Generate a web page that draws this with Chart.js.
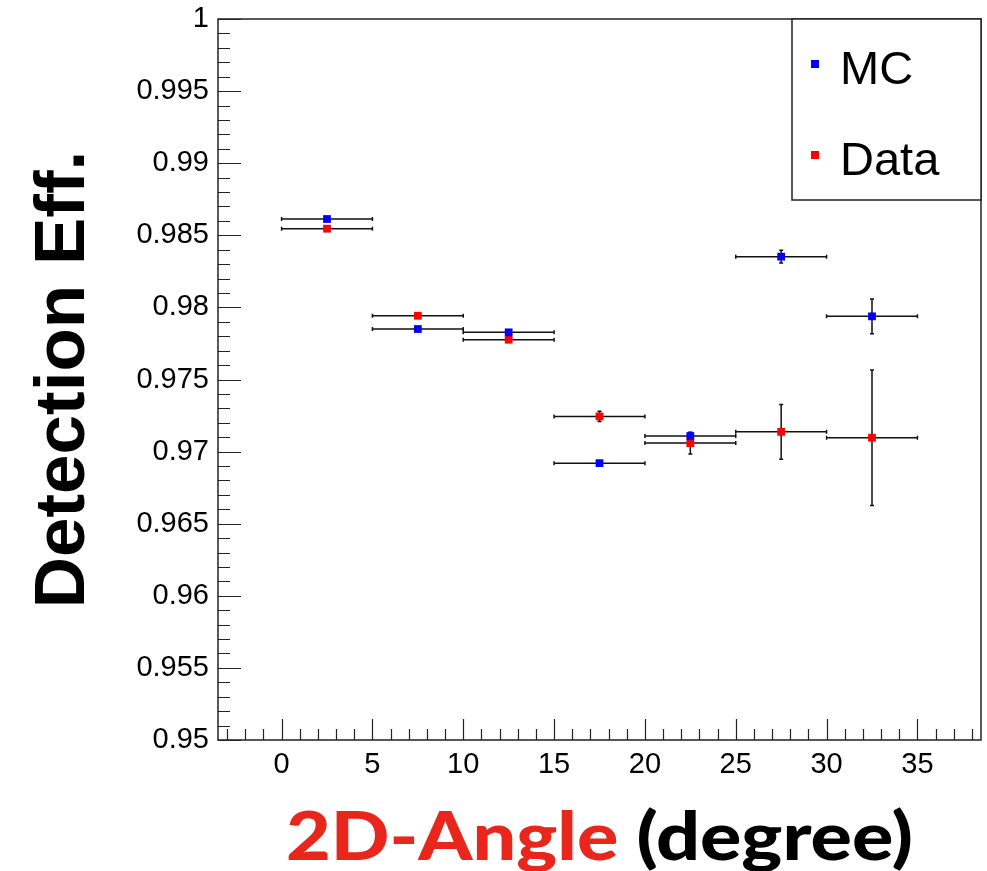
<!DOCTYPE html>
<html>
<head>
<meta charset="utf-8">
<script src="https://cdn.jsdelivr.net/npm/chart.js@4.4.1/dist/chart.umd.min.js"></script>
<style>
  html, body { margin: 0; padding: 0; background: #fff; }
</style>
</head>
<body>
<canvas id="effchart" width="987" height="871"></canvas>
<script>
// bin centres and half widths (degrees)
const binCenters = [2.5, 7.5, 12.5, 17.5, 22.5, 27.5, 32.5];
const binHalfWidths = [2.5, 2.5, 2.5, 2.5, 2.5, 2.5, 2.5];

// efficiencies
const mcEff = [0.98613, 0.97850, 0.97827, 0.96920, 0.97108, 0.98352, 0.97938];
const mcErr = [0.0001, 0.0001, 0.0001, 0.0001, 0.00025, 0.00044, 0.0012];
const dataEff = [0.98546, 0.97942, 0.97776, 0.97244, 0.97059, 0.97137, 0.97096];
const dataErr = [0.0001, 0.0001, 0.0001, 0.00035, 0.00075, 0.0019, 0.0047];

// axis ticks
const xTickValues = [0, 5, 10, 15, 20, 25, 30, 35];
const xTickLabels = ['0', '5', '10', '15', '20', '25', '30', '35'];
const yTickValues = [0.95, 0.955, 0.96, 0.965, 0.97, 0.975, 0.98, 0.985, 0.99, 0.995, 1];
const yTickLabels = ['0.95', '0.955', '0.96', '0.965', '0.97', '0.975', '0.98', '0.985', '0.99', '0.995', '1'];

const seriesNames = ['MC', 'Data'];
const seriesColors = ['#0000ff', '#ff0000'];

function toPoints(vals, errs) {
    return binCenters.map((x, i) => ({ x: x, y: vals[i], ex: binHalfWidths[i], ey: errs[i] }));
}

// error bars drawn behind the markers
const errorBars = {
    id: 'errorBars',
    beforeDatasetsDraw(chart) {
        const ctx = chart.ctx;
        const xs = chart.scales.x, ys = chart.scales.y;
        ctx.save();
        ctx.strokeStyle = '#111';
        ctx.lineWidth = 1.5;
        chart.data.datasets.forEach(ds => {
            ds.data.forEach(p => {
                const x0 = xs.getPixelForValue(p.x - p.ex);
                const x1 = xs.getPixelForValue(p.x + p.ex);
                const xc = xs.getPixelForValue(p.x);
                const yc = ys.getPixelForValue(p.y);
                const y0 = ys.getPixelForValue(p.y - p.ey);
                const y1 = ys.getPixelForValue(p.y + p.ey);
                ctx.beginPath();
                ctx.moveTo(x0, yc); ctx.lineTo(x1, yc);
                ctx.moveTo(x0, yc - 2); ctx.lineTo(x0, yc + 2);
                ctx.moveTo(x1, yc - 2); ctx.lineTo(x1, yc + 2);
                if (Math.abs(y0 - y1) > 6) {
                    ctx.moveTo(xc, y0); ctx.lineTo(xc, y1);
                    ctx.moveTo(xc - 2, y0); ctx.lineTo(xc + 2, y0);
                    ctx.moveTo(xc - 2, y1); ctx.lineTo(xc + 2, y1);
                }
                ctx.stroke();
            });
        });
        ctx.restore();
    }
};

// ROOT style frame with inner ticks, titles and legend box
const rootFrame = {
    id: 'rootFrame',
    afterDraw(chart) {
        const ctx = chart.ctx;
        const a = chart.chartArea;
        const xs = chart.scales.x, ys = chart.scales.y;
        ctx.save();
        ctx.strokeStyle = '#222';
        ctx.lineWidth = 1.5;
        ctx.strokeRect(a.left, a.top, a.right - a.left, a.bottom - a.top);

        ctx.beginPath();
        for (let v = -3; v <= 38; v++) {
            const px = Math.round(xs.getPixelForValue(v)) + 0.5;
            const len = (v % 5 === 0) ? 21 : 11;
            ctx.moveTo(px, a.bottom); ctx.lineTo(px, a.bottom - len);
        }
        for (let k = 0; k <= 50; k++) {
            const py = Math.round(ys.getPixelForValue(0.95 + k * 0.001)) + 0.5;
            const len = (k % 5 === 0) ? 23 : 12;
            ctx.moveTo(a.left, py); ctx.lineTo(a.left + len, py);
        }
        ctx.lineWidth = 1.2;
        ctx.stroke();

        // y title
        ctx.fillStyle = '#000';
        ctx.save();
        ctx.translate(84, (a.top + a.bottom) / 2);
        ctx.rotate(-Math.PI / 2);
        ctx.font = 'bold 71px "Liberation Sans", Arial, sans-serif';
        ctx.textAlign = 'center';
        ctx.textBaseline = 'alphabetic';
        ctx.fillText('Detection Eff.', 0, 0);
        ctx.restore();

        // x title, two colours
        ctx.save();
        ctx.font = '900 66px Lato, "DejaVu Sans", sans-serif';
        ctx.textBaseline = 'alphabetic';
        ctx.textAlign = 'left';
        const partA = '2D-Angle ';
        const partB = '(degree)';
        const wA = ctx.measureText(partA).width;
        const wB = ctx.measureText(partB).width;
        const sx = 627 / (wA + wB);
        ctx.translate(286, 860);
        ctx.scale(sx, 1);
        ctx.fillStyle = '#e8261c';
        ctx.fillText(partA, 0, 0);
        ctx.fillStyle = '#000';
        ctx.fillText(partB, wA, 0);
        ctx.restore();

        // legend
        const lx = 792, ly = a.top, lw = a.right - 792, lh = 181;
        ctx.fillStyle = '#fff';
        ctx.fillRect(lx, ly, lw, lh);
        ctx.strokeStyle = '#222';
        ctx.lineWidth = 1.5;
        ctx.strokeRect(lx, ly, lw, lh);
        ctx.font = '47px "Liberation Sans", Arial, sans-serif';
        ctx.textBaseline = 'alphabetic';
        ctx.textAlign = 'left';
        const rows = [84, 175];
        seriesNames.forEach((name, i) => {
            ctx.fillStyle = seriesColors[i];
            ctx.fillRect(811, rows[i] - 24, 8, 8);
            ctx.fillStyle = '#000';
            ctx.fillText(name, 840, rows[i]);
        });
        ctx.restore();
    }
};

const ctx = document.getElementById('effchart').getContext('2d');
const effChart = new Chart(ctx, {
    type: 'scatter',
    data: {
        datasets: [
            {
                label: seriesNames[0],
                data: toPoints(mcEff, mcErr),
                backgroundColor: seriesColors[0],
                borderColor: seriesColors[0],
                borderWidth: 0,
                pointStyle: 'rect',
                pointRadius: 5.5
            },
            {
                label: seriesNames[1],
                data: toPoints(dataEff, dataErr),
                backgroundColor: seriesColors[1],
                borderColor: seriesColors[1],
                borderWidth: 0,
                pointStyle: 'rect',
                pointRadius: 5.5
            }
        ]
    },
    options: {
        responsive: false,
        animation: false,
        devicePixelRatio: 1,
        layout: { padding: { top: 19, right: 6, left: 0, bottom: 0 } },
        plugins: {
            legend: { display: false },
            tooltip: { enabled: false }
        },
        scales: {
            x: {
                type: 'linear',
                min: -3.5,
                max: 38.5,
                grid: { display: false },
                border: { display: false },
                afterBuildTicks: s => { s.ticks = xTickValues.map(v => ({ value: v })); },
                afterFit: s => { s.height = 131; s.paddingLeft = 0; s.paddingRight = 0; },
                ticks: {
                    padding: 0,
                    maxRotation: 0,
                    color: '#000',
                    font: { family: '"Liberation Sans", Arial, sans-serif', size: 29 },
                    callback: (v, i) => xTickLabels[i]
                }
            },
            y: {
                type: 'linear',
                min: 0.95,
                max: 1,
                grid: { display: false },
                border: { display: false },
                afterBuildTicks: s => { s.ticks = yTickValues.map(v => ({ value: v })); },
                afterFit: s => { s.width = 218; s.paddingTop = 0; s.paddingBottom = 0; },
                ticks: {
                    padding: 1,
                    color: '#000',
                    font: { family: '"Liberation Sans", Arial, sans-serif', size: 29 },
                    callback: (v, i) => yTickLabels[i]
                }
            }
        }
    },
    plugins: [errorBars, rootFrame]
});
</script>
</body>
</html>
